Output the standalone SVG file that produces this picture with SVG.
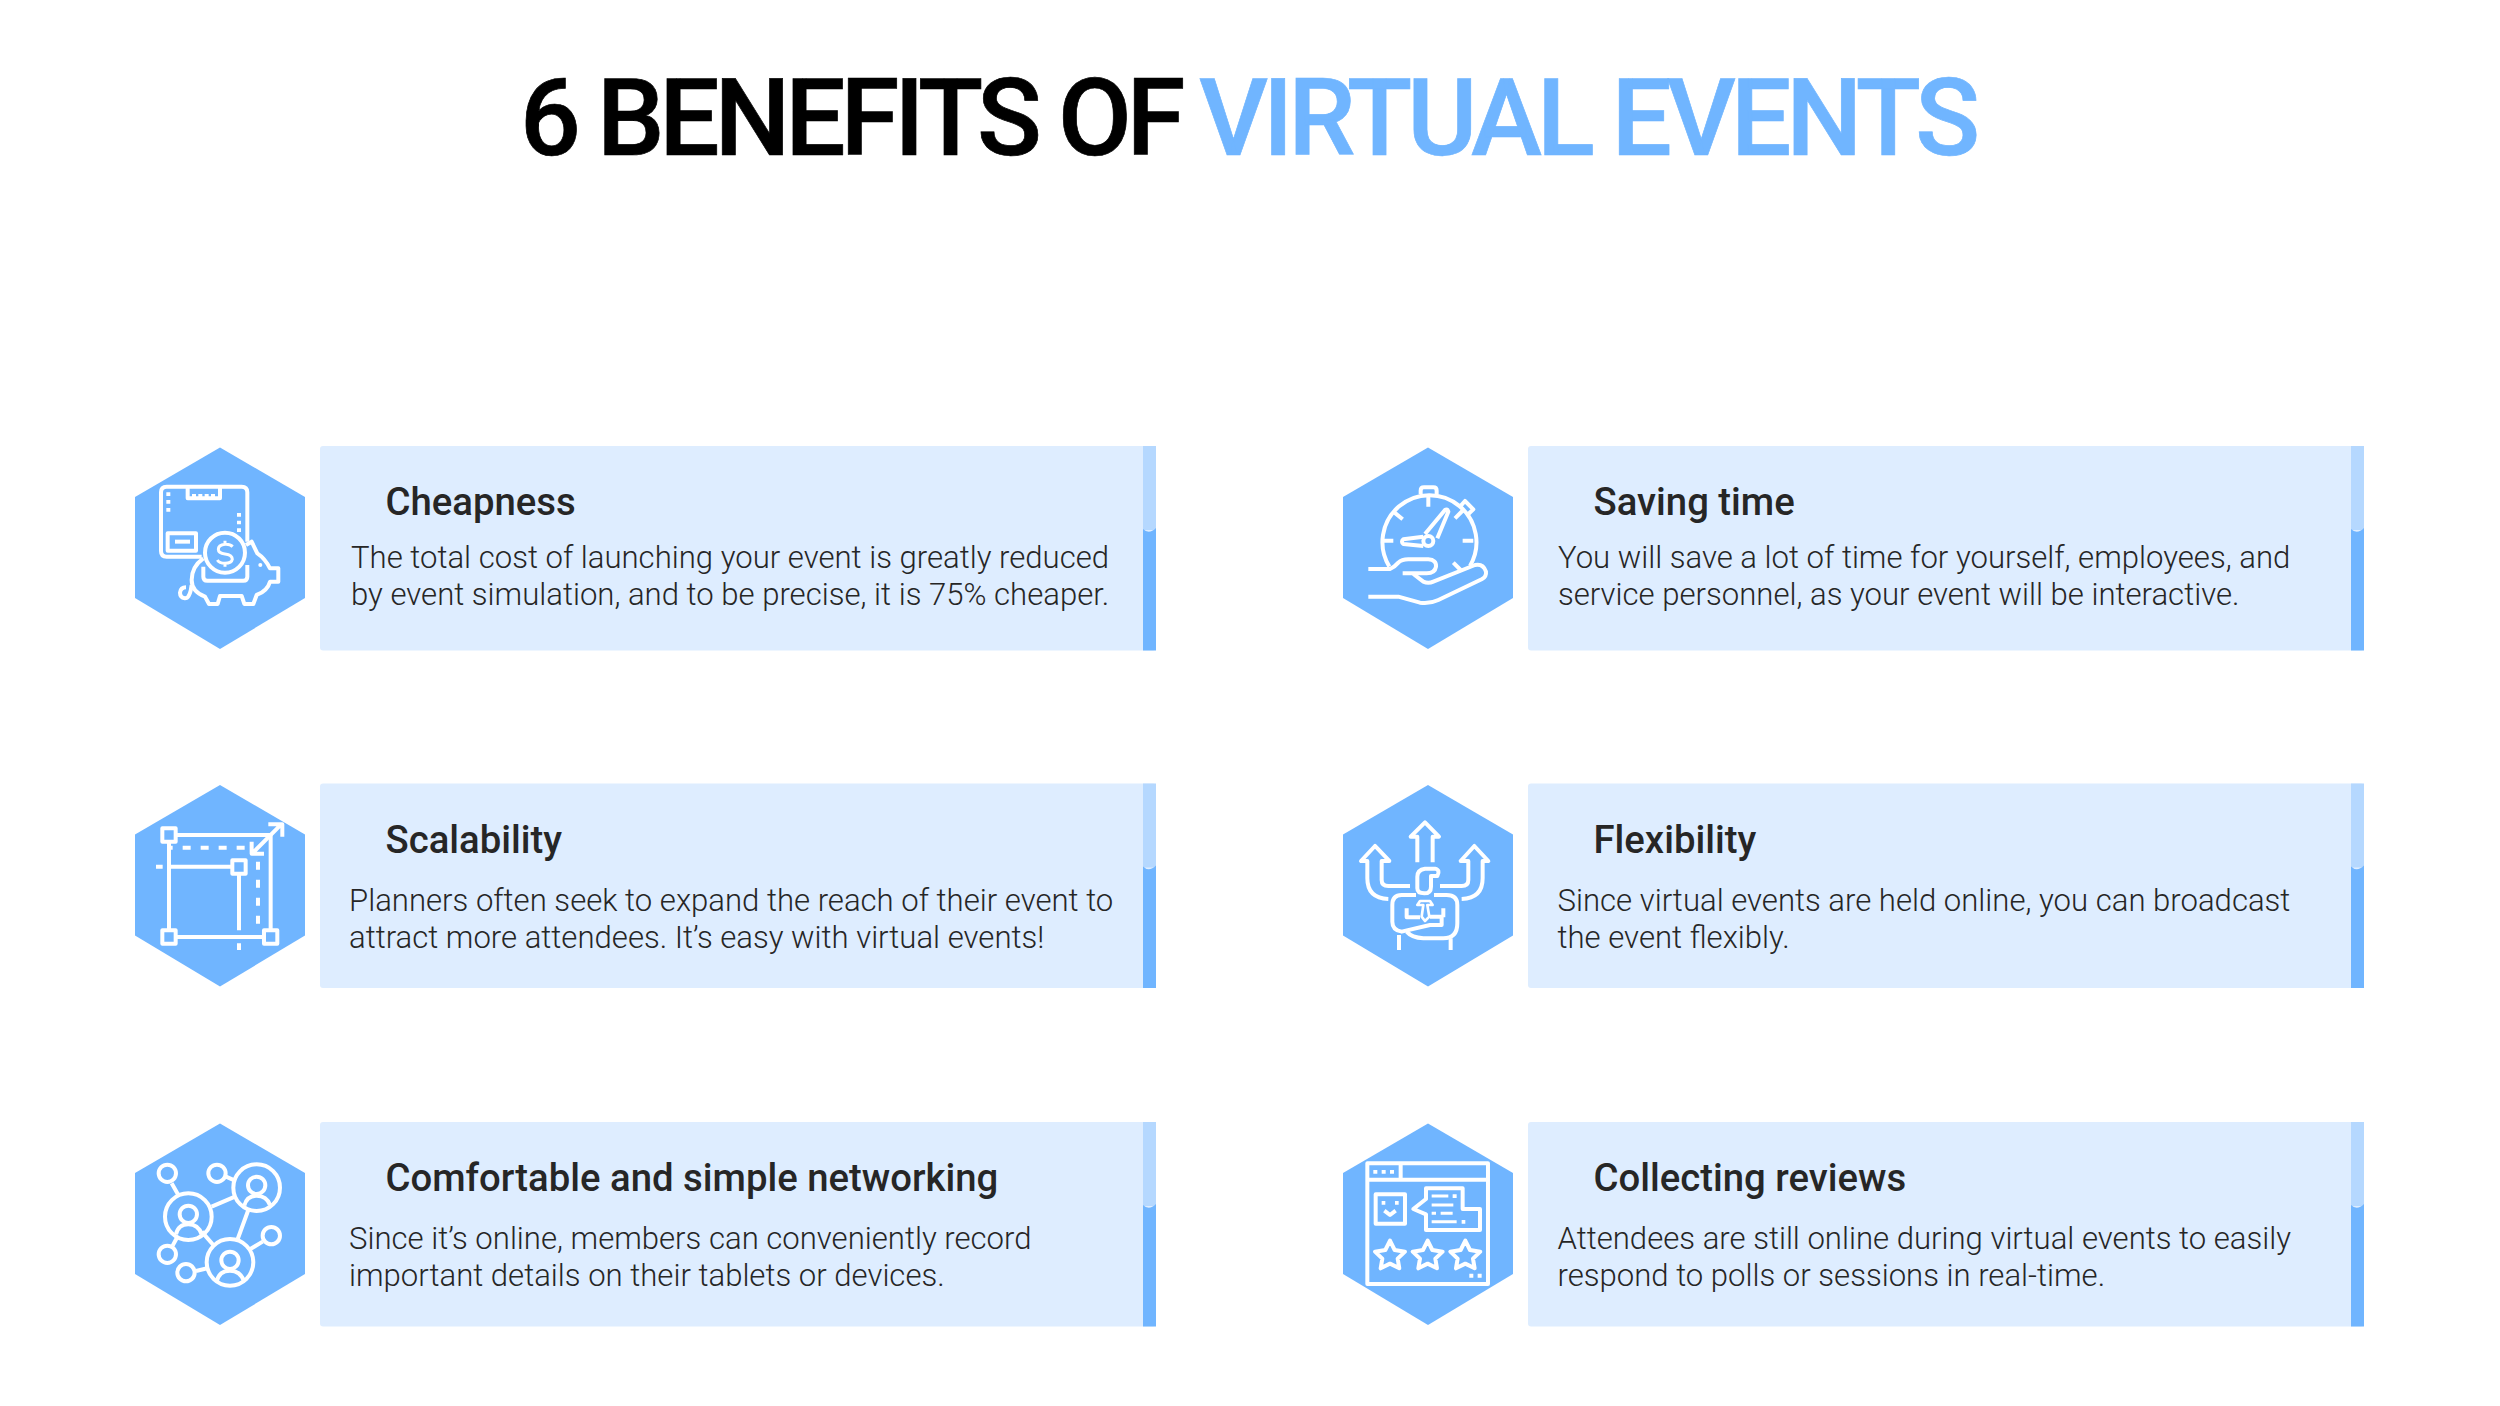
<svg xmlns="http://www.w3.org/2000/svg" width="2500" height="1406" viewBox="0 0 2500 1406">
<style>
.hex{fill:#70B5FF}
.box{fill:#DEEDFF}
.s1{fill:#B5D8FF}
.s2{fill:#70B5FF}
.h{font-family:Roboto,"Liberation Sans",sans-serif;font-weight:500;font-size:38.3px;fill:#262626}
.b{font-family:Roboto,"Liberation Sans",sans-serif;font-weight:300;font-size:31.1px;fill:#262626}
.t{font-family:Roboto,"Liberation Sans",sans-serif;font-weight:500;font-size:107px;letter-spacing:-5.2px;stroke:#000;stroke-width:.7px}
.t2{fill:#70B5FF;stroke:#70B5FF;letter-spacing:-5px}
.i{fill:none;stroke:#fff;stroke-width:12;stroke-linejoin:round}
.d{fill:#fff;stroke:none}
</style>
<defs>
<g id="card">
<polygon class="hex" points="220,1.5 305,51 305,152 220,203 135,152 135,51"/>
<rect class="box" x="320" y="0" width="836" height="204.5" rx="3"/>
<rect class="s1" x="1143" y="0" width="13" height="84"/>
<path class="s2" d="M1143 83Q1149 89 1156 82V204.500H1143Z"/>
</g>
</defs>
<rect width="2500" height="1406" fill="#fff"/>
<text id="title" class="t" x="520" y="155">6 BENEFITS OF<tspan class="t2" dx="-3"> VIRTUAL EVENTS</tspan></text>
<g id="connectors"/>

<g id="node-cheapness">
<use href="#card" y="446"/>
<g class="i" transform="translate(120 430) scale(.3333)">
<path d="M245 380H140Q123 380 123 363V187Q123 170 140 170H365Q382 170 382 187V335"/>
<path d="M203 170V205H300V170M222 192V200M241 192V200M260 192V200M279 192V200"/>
<path class="d" d="M139 187h12v11h-12zM139 210h12v11h-12zM139 234h12v11h-12zM351 249h12v11h-12zM351 272h12v11h-12zM351 295h12v11h-12z"/>
<rect x="143" y="310" width="85" height="52"/><path d="M165 335H210"/>
<circle cx="315" cy="368" r="60"/>
<path d="M338 350Q330 342 315 343Q295 345 295 358Q295 370 315 372Q337 375 337 388Q335 400 315 400Q298 400 292 390M315 332V343M315 400V410" stroke-width="9"/>
<path d="M250 385Q215 410 215 450Q215 485 255 500L267 522H293L300 498H365L373 522H400L410 495Q443 482 450 455H475V415H450Q435 385 412 370L395 335L378 345"/>
<path d="M215 465Q210 505 195 505Q180 502 180 488Q182 472 198 472"/>
<path d="M250 410V440Q250 452 262 452H370Q382 452 382 440V405"/>
<circle class="d" cx="421" cy="405" r="6"/>
</g>
<text class="h" x="385.5" y="515">Cheapness</text>
<text class="b" x="351" y="568">The total cost of launching your event is greatly reduced</text>
<text class="b" x="351" y="605">by event simulation, and to be precise, it is 75% cheaper.</text>
</g>

<g id="node-saving-time">
<use href="#card" x="1208" y="446"/>
<g class="i" transform="translate(1330 430) scale(.3333)">
<path d="M178 410A141 141 0 1 1 420 408"/>
<path d="M272 192V182Q272 172 282 172H310Q320 172 320 182V192M388 232L405 213L430 238L412 255"/>
<path d="M295 200V230M190 245L218 268M375 265L400 240M160 332H190M398 332H430M370 398L392 420"/>
<circle cx="295" cy="333" r="15"/>
<path d="M285 312L345 240Q352 235 355 245L322 325M280 320L220 328Q212 335 220 342L280 348"/>
<path d="M115 417H180Q195 410 205 398Q215 388 235 388H295Q320 390 318 410Q315 430 290 430H218"/>
<path d="M250 432L280 455Q295 462 310 455L435 405Q460 400 468 425Q470 440 455 448L325 510Q300 522 270 518L205 500H115"/>
</g>
<text class="h" x="1593.5" y="515">Saving time</text>
<text class="b" x="1558" y="568">You will save a lot of time for yourself, employees, and</text>
<text class="b" x="1558" y="605">service personnel, as your event will be interactive.</text>
</g>

<g id="node-scalability">
<use href="#card" y="783.5"/>
<g class="i" transform="translate(120 775) scale(.3333)">
<rect x="127" y="160" width="40" height="40"/><rect x="337" y="256" width="40" height="40"/><rect x="127" y="466" width="40" height="40"/><rect x="432" y="466" width="40" height="40"/>
<path d="M167 180H452V466M147 200V466M167 486H432M147 275H337M357 296V466"/>
<path d="M150 218H400" stroke-dasharray="24 30" stroke-dashoffset="-38"/>
<path d="M414 260V450" stroke-dasharray="24 30"/>
<path d="M108 275H128M357 505V525"/>
<path d="M400 232L480 152M445 148H487V185M395 200V236H432"/>
</g>
<text class="h" x="385.5" y="853">Scalability</text>
<text class="b" x="349" y="911">Planners often seek to expand the reach of their event to</text>
<text class="b" x="349" y="948">attract more attendees. It’s easy with virtual events!</text>
</g>

<g id="node-flexibility">
<use href="#card" x="1208" y="783.5"/>
<g class="i" transform="translate(1330 775) scale(.3333)">
<path d="M262 262V185H242L285 142L327 185H308V262"/>
<path d="M240 333H175Q155 333 155 315V258H178L135 213L93 258H112V310Q112 370 175 372"/>
<path d="M330 333H395Q415 333 415 315V258H392L433 213L475 258H458V310Q458 370 395 372"/>
<path d="M262 340V305Q262 284 285 281H315Q332 285 322 303H303V335Q303 355 283 355Q262 355 262 340Z"/>
<path d="M258 360H215Q187 360 187 390V440Q187 465 215 470L300 450H335V425H300"/>
<path d="M312 360H350Q382 360 382 390V445Q382 490 340 490H280Q245 488 230 470"/>
<path d="M207 480V525M362 490V525M230 400V427H270M340 400V427"/>
<path d="M270 378H300L308 390H292L298 425L285 438L275 425L280 390H262Z" stroke-width="8"/>
</g>
<text class="h" x="1593.5" y="853">Flexibility</text>
<text class="b" x="1557.5" y="911">Since virtual events are held online, you can broadcast</text>
<text class="b" x="1557.5" y="948">the event flexibly.</text>
</g>

<g id="node-networking">
<use href="#card" y="1122"/>
<g class="i" transform="translate(120 1115) scale(.3333)">
<circle cx="205" cy="305" r="70"/><circle cx="410" cy="218" r="70"/><circle cx="330" cy="442" r="70"/>
<circle cx="142" cy="175" r="26"/><circle cx="291" cy="175" r="26"/><circle cx="454" cy="362" r="26"/><circle cx="142" cy="418" r="26"/><circle cx="198" cy="473" r="26"/>
<circle cx="205" cy="298" r="26"/><circle cx="410" cy="211" r="26"/><circle cx="330" cy="436" r="26"/>
<path d="M168 358Q175 328 205 328Q235 328 245 358M373 272Q380 242 410 242Q440 242 450 270M290 500Q297 467 330 467Q360 467 372 498"/>
<path d="M155 205L175 240M318 185L345 197M275 275L345 245M385 285L352 375M245 350L280 390M390 403L428 380M170 370L158 392M228 468L262 460"/>
</g>
<text class="h" x="385.5" y="1191">Comfortable and simple networking</text>
<text class="b" x="349" y="1249">Since it’s online, members can conveniently record</text>
<text class="b" x="349" y="1286">important details on their tablets or devices.</text>
</g>

<g id="node-reviews">
<use href="#card" x="1208" y="1122"/>
<g class="i" transform="translate(1330 1115) scale(.3333)">
<rect x="112" y="145" width="362" height="362"/>
<path d="M112 194H474M212 145V194"/>
<path class="d" d="M130 165h12v11h-12zM155 165h12v11h-12zM180 165h12v11h-12zM418 476h12v12h-12zM443 476h12v12h-12zM155 258h11v11h-11zM195 258h11v11h-11zM395 315h11v11h-11zM368 238h12v11h-12z"/>
<rect x="137" y="238" width="88" height="88"/>
<path d="M163 287L180 300L197 287"/>
<path d="M288 220H398V282H450V345H288V298L250 282L288 252Z"/>
<path d="M305 243H355M305 270H370M305 295H318M332 295H368M305 320H380" stroke-width="9"/>
<path d="M180 377L194 405L225 410L203 431L208 460L180 446L152 460L157 431L135 410L166 405Z"/>
<path d="M293 377L307 405L338 410L316 431L321 460L293 446L265 460L270 431L248 410L279 405Z"/>
<path d="M406 377L420 405L451 410L429 431L434 460L406 446L378 460L383 431L361 410L392 405Z"/>
</g>
<text class="h" x="1593.5" y="1191">Collecting reviews</text>
<text class="b" x="1557.5" y="1249">Attendees are still online during virtual events to easily</text>
<text class="b" x="1557.5" y="1286">respond to polls or sessions in real-time.</text>
</g>
</svg>
